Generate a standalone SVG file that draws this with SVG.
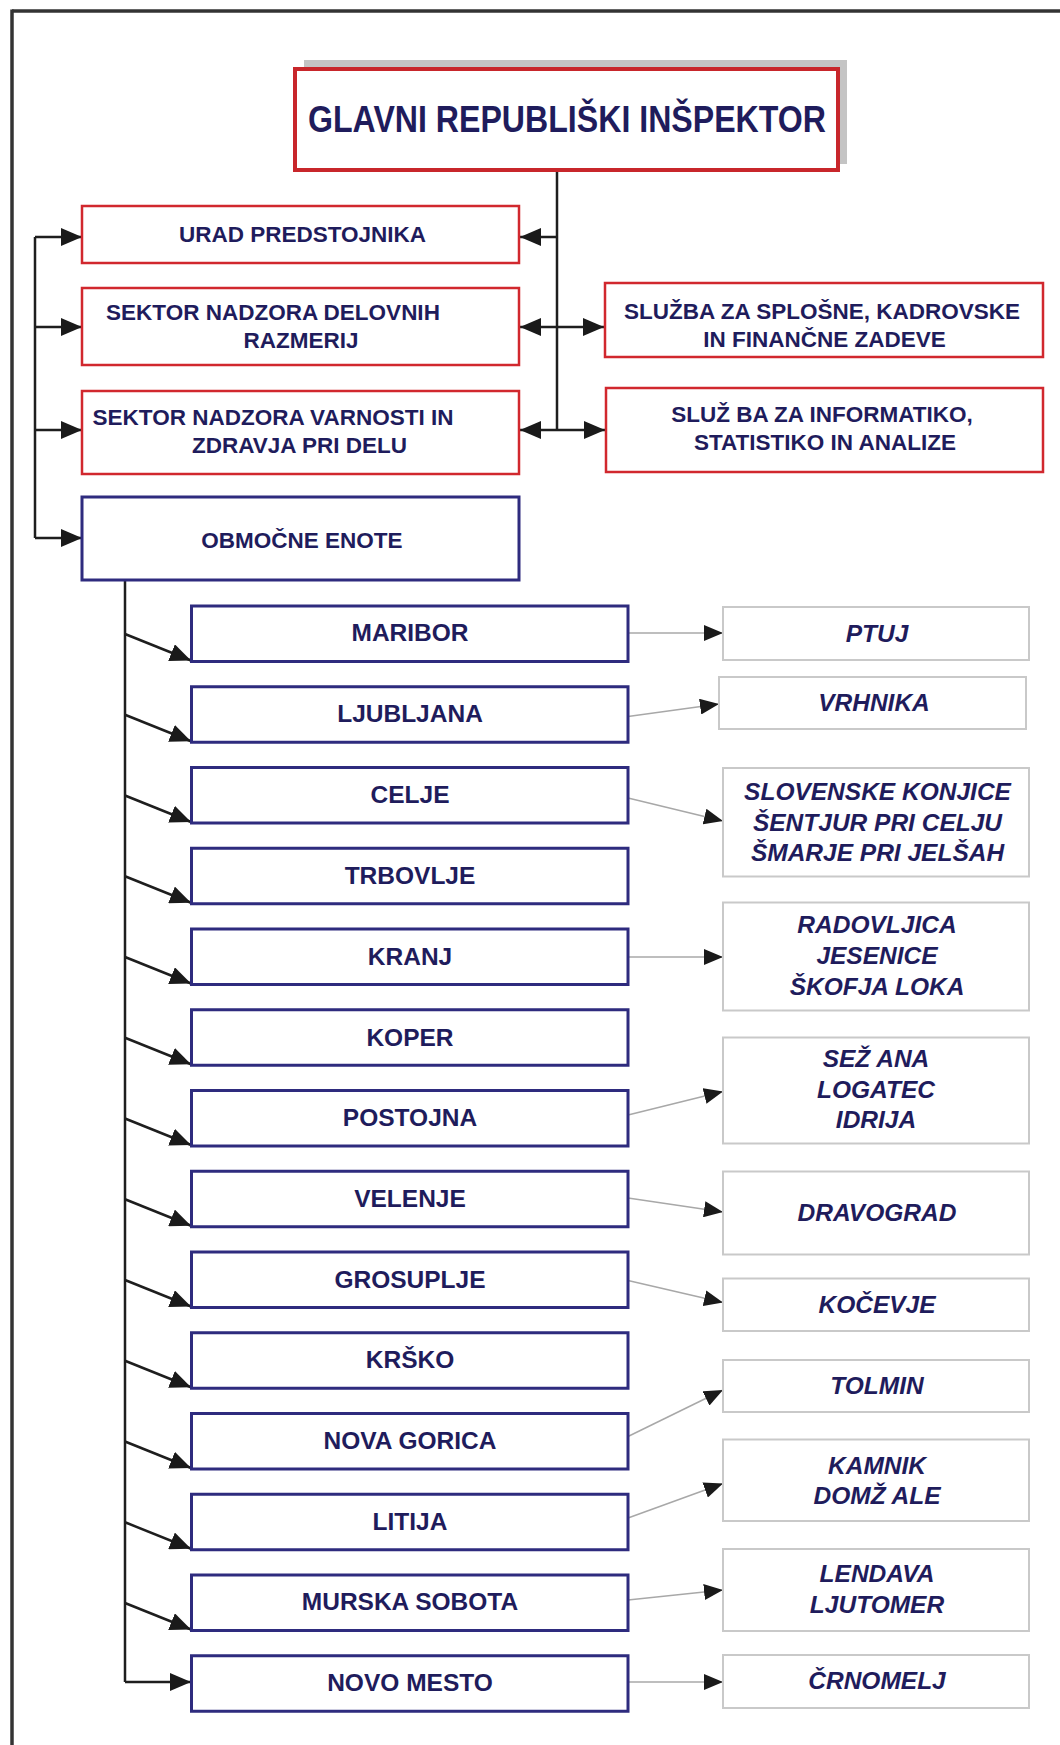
<svg xmlns="http://www.w3.org/2000/svg" width="1060" height="1745" viewBox="0 0 1060 1745">
<defs>
<marker id="ah" markerUnits="userSpaceOnUse" markerWidth="21" markerHeight="18" refX="21" refY="9" orient="auto"><path d="M0,0 L21,9 L0,18 z" fill="#1a1a1a"/></marker>
<marker id="ahs" markerUnits="userSpaceOnUse" markerWidth="19" markerHeight="16" refX="19" refY="8" orient="auto"><path d="M0,0 L19,8 L0,16 z" fill="#1a1a1a"/></marker>
<style>
.t{font-family:"Liberation Sans",Arial,sans-serif;font-weight:bold;fill:#1f1c5c;text-anchor:middle}
.r{font-size:22.5px}
.g{font-size:24.5px}
.m{font-size:24.5px;font-style:italic}
.red{fill:#fff;stroke:#d1282e;stroke-width:2.5}
.navy{fill:#fff;stroke:#2e2b7e;stroke-width:3}
.gray{fill:#fff;stroke:#c9c9c9;stroke-width:2}
.c{fill:none;stroke:#1e1e1e;stroke-width:2.5}
.cg{fill:none;stroke:#a8a8a8;stroke-width:1.5}
</style>
</defs>
<rect width="1060" height="1745" fill="#fff"/>
<g id="frame">
<line x1="12" y1="11" x2="1060" y2="11" stroke="#333" stroke-width="3.5"/>
<line x1="12" y1="9.5" x2="12" y2="1745" stroke="#333" stroke-width="3.5"/>
</g>
<g id="connectors">
<path class="c" d="M557,170 V430"/>
<path class="c" marker-end="url(#ah)" d="M557,237 H520"/>
<path class="c" marker-end="url(#ah)" d="M557,327 H520"/>
<path class="c" marker-end="url(#ah)" d="M557,430 H520"/>
<path class="c" marker-end="url(#ah)" d="M557,327 H604"/>
<path class="c" marker-end="url(#ah)" d="M557,430 H605"/>
<path class="c" d="M35,237 V538"/>
<path class="c" marker-end="url(#ah)" d="M35,237 H82"/>
<path class="c" marker-end="url(#ah)" d="M35,327 H82"/>
<path class="c" marker-end="url(#ah)" d="M35,430 H82"/>
<path class="c" marker-end="url(#ah)" d="M35,538 H82"/>
<path class="c" d="M125,580 V1682"/>
<path class="c" marker-end="url(#ah)" d="M125,634 L191,660.5"/>
<path class="c" marker-end="url(#ah)" d="M125,714.75 L191,741.25"/>
<path class="c" marker-end="url(#ah)" d="M125,795.5 L191,822"/>
<path class="c" marker-end="url(#ah)" d="M125,876.25 L191,902.75"/>
<path class="c" marker-end="url(#ah)" d="M125,957 L191,983.5"/>
<path class="c" marker-end="url(#ah)" d="M125,1037.75 L191,1064.25"/>
<path class="c" marker-end="url(#ah)" d="M125,1118.5 L191,1145"/>
<path class="c" marker-end="url(#ah)" d="M125,1199.25 L191,1225.75"/>
<path class="c" marker-end="url(#ah)" d="M125,1280 L191,1306.5"/>
<path class="c" marker-end="url(#ah)" d="M125,1360.75 L191,1387.25"/>
<path class="c" marker-end="url(#ah)" d="M125,1441.5 L191,1468"/>
<path class="c" marker-end="url(#ah)" d="M125,1522.25 L191,1548.75"/>
<path class="c" marker-end="url(#ah)" d="M125,1603 L191,1629.5"/>
<path class="c" marker-end="url(#ah)" d="M125,1682 H191"/>
<path class="cg" marker-end="url(#ahs)" d="M628,633 H723"/>
<path class="cg" marker-end="url(#ahs)" d="M628,716.5 L719,704"/>
<path class="cg" marker-end="url(#ahs)" d="M628,798 L723,821"/>
<path class="cg" marker-end="url(#ahs)" d="M628,957 H723"/>
<path class="cg" marker-end="url(#ahs)" d="M628,1115 L723,1091.5"/>
<path class="cg" marker-end="url(#ahs)" d="M628,1198 L723,1212"/>
<path class="cg" marker-end="url(#ahs)" d="M628,1280.5 L723,1302.5"/>
<path class="cg" marker-end="url(#ahs)" d="M628,1436.5 L723,1390"/>
<path class="cg" marker-end="url(#ahs)" d="M628,1518 L723,1483.5"/>
<path class="cg" marker-end="url(#ahs)" d="M628,1600 L723,1590"/>
<path class="cg" marker-end="url(#ahs)" d="M628,1682 H723"/>
</g>
<g id="glavni">
<rect x="304" y="60" width="543" height="104" fill="#c4c4c4"/>
<rect x="295" y="69" width="543" height="101" fill="#fff" stroke="#c8262b" stroke-width="4"/>
<text class="t" x="567" y="132" font-size="36" textLength="518" lengthAdjust="spacingAndGlyphs">GLAVNI REPUBLIŠKI INŠPEKTOR</text>
</g>
<g id="urad"><rect class="red" x="82" y="206" width="437" height="57"/><text class="t r" x="302.5" y="242">URAD PREDSTOJNIKA</text></g>
<g id="sektor-delovnih"><rect class="red" x="82" y="288" width="437" height="77"/><text class="t r" x="273" y="319.5">SEKTOR NADZORA DELOVNIH</text><text class="t r" x="301" y="347.5">RAZMERIJ</text></g>
<g id="sektor-varnosti"><rect class="red" x="82" y="391" width="437" height="83"/><text class="t r" x="273" y="425">SEKTOR NADZORA VARNOSTI IN</text><text class="t r" x="299.5" y="453">ZDRAVJA PRI DELU</text></g>
<g id="obmocne"><rect class="navy" x="82" y="497" width="437" height="83"/><text class="t r" x="302" y="548">OBMOČNE ENOTE</text></g>
<g id="sluzba-splosne"><rect class="red" x="605" y="283" width="438" height="74"/><text class="t r" x="822" y="318.5">SLUŽBA ZA SPLOŠNE, KADROVSKE</text><text class="t r" x="824.5" y="346.5">IN FINANČNE ZADEVE</text></g>
<g id="sluzba-informatiko"><rect class="red" x="606" y="388" width="437" height="84"/><text class="t r" x="822" y="421.5">SLUŽ BA ZA INFORMATIKO,</text><text class="t r" x="825" y="450">STATISTIKO IN ANALIZE</text></g>
<g id="maribor"><rect class="navy" x="191.5" y="606" width="436.5" height="55.5"/><text class="t g" x="410" y="641">MARIBOR</text></g>
<g id="ljubljana"><rect class="navy" x="191.5" y="686.75" width="436.5" height="55.5"/><text class="t g" x="410" y="722">LJUBLJANA</text></g>
<g id="celje"><rect class="navy" x="191.5" y="767.5" width="436.5" height="55.5"/><text class="t g" x="410" y="802.5">CELJE</text></g>
<g id="trbovlje"><rect class="navy" x="191.5" y="848.25" width="436.5" height="55.5"/><text class="t g" x="410" y="883.5">TRBOVLJE</text></g>
<g id="kranj"><rect class="navy" x="191.5" y="929" width="436.5" height="55.5"/><text class="t g" x="410" y="964.5">KRANJ</text></g>
<g id="koper"><rect class="navy" x="191.5" y="1009.75" width="436.5" height="55.5"/><text class="t g" x="410" y="1045.5">KOPER</text></g>
<g id="postojna"><rect class="navy" x="191.5" y="1090.5" width="436.5" height="55.5"/><text class="t g" x="410" y="1126">POSTOJNA</text></g>
<g id="velenje"><rect class="navy" x="191.5" y="1171.25" width="436.5" height="55.5"/><text class="t g" x="410" y="1206.5">VELENJE</text></g>
<g id="grosuplje"><rect class="navy" x="191.5" y="1252" width="436.5" height="55.5"/><text class="t g" x="410" y="1288">GROSUPLJE</text></g>
<g id="krsko"><rect class="navy" x="191.5" y="1332.75" width="436.5" height="55.5"/><text class="t g" x="410" y="1368">KRŠKO</text></g>
<g id="nova-gorica"><rect class="navy" x="191.5" y="1413.5" width="436.5" height="55.5"/><text class="t g" x="410" y="1448.5">NOVA GORICA</text></g>
<g id="litija"><rect class="navy" x="191.5" y="1494.25" width="436.5" height="55.5"/><text class="t g" x="410" y="1530">LITIJA</text></g>
<g id="murska-sobota"><rect class="navy" x="191.5" y="1575" width="436.5" height="55.5"/><text class="t g" x="410" y="1610">MURSKA SOBOTA</text></g>
<g id="novo-mesto"><rect class="navy" x="191.5" y="1655.75" width="436.5" height="55.5"/><text class="t g" x="410" y="1691">NOVO MESTO</text></g>
<g id="ptuj"><rect class="gray" x="723" y="607" width="306" height="53"/><text class="t m" x="877" y="641.5">PTUJ</text></g>
<g id="vrhnika"><rect class="gray" x="719" y="677" width="307" height="52"/><text class="t m" x="874" y="710.5">VRHNIKA</text></g>
<g id="slovenske-konjice"><rect class="gray" x="723" y="768" width="306" height="108.5"/><text class="t m" x="877.5" y="800">SLOVENSKE KONJICE</text><text class="t m" x="877.5" y="830.5">ŠENTJUR PRI CELJU</text><text class="t m" x="877.5" y="861">ŠMARJE PRI JELŠAH</text></g>
<g id="radovljica"><rect class="gray" x="723" y="902.5" width="306" height="108"/><text class="t m" x="877" y="933">RADOVLJICA</text><text class="t m" x="877" y="963.5">JESENICE</text><text class="t m" x="877" y="995">ŠKOFJA LOKA</text></g>
<g id="sezana"><rect class="gray" x="723" y="1037.5" width="306" height="106"/><text class="t m" x="876" y="1066.5">SEŽ ANA</text><text class="t m" x="876" y="1097.5">LOGATEC</text><text class="t m" x="876" y="1128">IDRIJA</text></g>
<g id="dravograd"><rect class="gray" x="723" y="1171.5" width="306" height="83"/><text class="t m" x="877" y="1220.5">DRAVOGRAD</text></g>
<g id="kocevje"><rect class="gray" x="723" y="1278.5" width="306" height="52.5"/><text class="t m" x="877" y="1313">KOČEVJE</text></g>
<g id="tolmin"><rect class="gray" x="723" y="1360" width="306" height="52"/><text class="t m" x="877" y="1394">TOLMIN</text></g>
<g id="kamnik"><rect class="gray" x="723" y="1439.5" width="306" height="81.5"/><text class="t m" x="877" y="1473.5">KAMNIK</text><text class="t m" x="877" y="1503.5">DOMŽ ALE</text></g>
<g id="lendava"><rect class="gray" x="723" y="1549" width="306" height="82"/><text class="t m" x="877" y="1581.5">LENDAVA</text><text class="t m" x="877" y="1612.5">LJUTOMER</text></g>
<g id="crnomelj"><rect class="gray" x="723" y="1655" width="306" height="53"/><text class="t m" x="877" y="1689">ČRNOMELJ</text></g>
</svg>
